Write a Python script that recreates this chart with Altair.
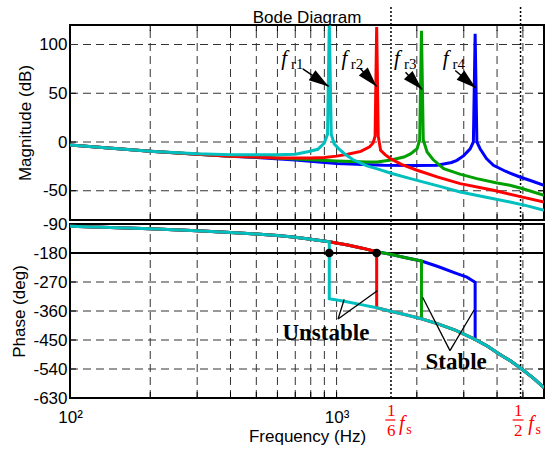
import altair as alt
import pandas as pd

# ---------------- data ----------------
F_MIN, F_MAX = 100, 6000
MAG_DOMAIN = [-80, 120]
PH_DOMAIN = [-630, -90]

mag_ticks = [100, 50, 0, -50]
phase_ticks = [-90, -180, -270, -360, -450, -540, -630]
mag_grid = [100, 50, 0, -50]
phase_grid = [-270, -360, -450, -540]
freq_grid = [200, 300, 400, 500, 600, 700, 800, 900, 1000, 2000, 3000, 4000, 5000]
fs_lines = [1600, 4900]          # 1/6 fs and 1/2 fs

# magnitude curves (Hz, dB)
mag_f_blue = [100, 200, 300, 400, 500, 700, 1000, 1500, 2000, 2382, 2700, 2828, 3000, 3171, 3260, 3310, 3360, 3454, 3650, 3876, 4300, 4873, 5400, 6000]
mag_db_blue = [-3, -9.5, -12.5, -14.5, -16, -18.5, -22, -23.9, -24, -23.9, -21, -18.8, -14, -7, 0, 111, 0, -6.9, -17, -23.9, -30, -35.9, -40, -44.4]

mag_f_green = [100, 200, 300, 400, 500, 700, 1000, 1300, 1422, 1600, 1789, 1900, 2005, 2050, 2082, 2115, 2186, 2300, 2523, 2900, 3358, 4000, 4471, 5000, 6000]
mag_db_green = [-3, -9.5, -12.5, -14.5, -15.5, -17.5, -19.5, -20.5, -20.5, -18.5, -15.4, -12, -6.9, 2, 114, 2, -10.3, -18, -27.4, -33, -37.6, -42, -44.4, -48, -54.6]

mag_f_red = [100, 200, 300, 400, 500, 600, 700, 800, 900, 1000, 1100, 1233, 1330, 1370, 1395, 1414, 1433, 1463, 1520, 1594, 1750, 2005, 2400, 2910, 3876, 4800, 6000]
mag_db_red = [-3, -9.5, -12.5, -14.5, -15.5, -16.3, -16.5, -16.5, -16, -14.5, -12.5, -9.6, -5, -1, 6, 118, 6, -8.6, -13, -17.1, -23, -29, -36, -42.7, -49.5, -55.5, -61.5]

mag_f_cyan = [100, 200, 300, 400, 500, 600, 700, 780, 850, 900, 925, 939, 955, 980, 1020, 1070, 1150, 1300, 1422, 1600, 1893, 2400, 2910, 3600, 4471, 5200, 6000]
mag_db_cyan = [-3, -9.5, -12, -13, -13, -13, -12.5, -10, -7.5, -1, 8, 122, 8, -2, -7, -12, -18, -24.5, -27.5, -32, -37.6, -45, -51.2, -56.5, -61.5, -65.5, -70]

# phase: common upper branch, common lower branch, resonance where each curve drops
upper_f = [100, 200, 300, 400, 500, 600, 700, 800, 939, 1100, 1250, 1414, 1594, 1800, 2082, 2400, 2828, 3083, 3310]
upper_deg = [-97, -105, -111, -116, -121, -126, -131, -137, -145, -155, -165, -176, -184, -194, -205, -222, -244, -255, -271]
lower_f = [939, 1068, 1250, 1414, 1594, 1800, 2082, 2400, 2800, 3310, 3700, 4100, 4500, 4950, 5500, 6000]
lower_deg = [-322, -330, -341, -350, -361, -371, -384, -400, -420, -448, -470, -495, -515, -540, -570, -598]

series_names = ["fr4", "fr3", "fr2", "fr1"]      # drawing order (cyan on top)
series_colors = ["#0000FF", "#00A000", "#FF0000", "#00BFBF"]
series_res = [3310, 2082, 1414, 939]
series_mag_f = [mag_f_blue, mag_f_green, mag_f_red, mag_f_cyan]
series_mag_db = [mag_db_blue, mag_db_green, mag_db_red, mag_db_cyan]

# annotations (data coordinates)
title_text = "Bode Diagram"
title_f = 774.6
title_db = 122
fr_sub = ["r1", "r2", "r3", "r4"]
fr_f_x = [620, 1044, 1642, 2500]
fr_sub_x = [675, 1131, 1789, 2725]
fr_f_y = 78.8
fr_sub_y = 75
arrow_start_f = [747, 1225, 1814, 2788]
arrow_start_db = [75, 75.7, 71.6, 73.3]
arrow_tip_f = [934, 1414, 2094, 3329]
arrow_tip_db = [57, 57, 53.9, 55.5]
arrow_angle = [34, 48, 46, 40]

dot_f = [939, 1414]
dot_deg = [-180, -180]

status_text = ["Unstable", "Stable"]
status_f = [912, 2809]
status_deg = [-451, -540]
v_apex_f = [1013, 1013, 2663, 2663]
v_apex_deg = [-385, -385, -483, -483]
v_end_f = [1068, 1422, 2103, 3281]
v_end_deg = [-324, -297, -317.5, -357]

frac_num = ["1", "1"]
frac_den = ["6", "2"]
frac_f = [1604, 4806]
frac_num_deg = -686.8
frac_den_deg = -746.7
frac_bar_f1 = [1524, 4575]
frac_bar_f2 = [1660, 5029]
frac_bar_deg = -698.3
frac_fs_f = [1714, 5236]
frac_fs_deg = -728.7
frac_s_f = [1825, 5577]
frac_s_deg = -742.7

# ---------------- scales / axes ----------------
xs = alt.Scale(type="log", domain=[F_MIN, F_MAX], nice=False)
ys_mag = alt.Scale(domain=MAG_DOMAIN, nice=False, zero=False)
ys_ph = alt.Scale(domain=PH_DOMAIN, nice=False, zero=False)

AX_MAG = alt.Axis(values=mag_ticks, title="Magnitude (dB)", grid=False, domain=False, ticks=False,
                  labelPadding=3, titlePadding=4, labelExpr="'' + datum.value")
AX_PH = alt.Axis(values=phase_ticks, title="Phase (deg)", grid=False, domain=False, ticks=False,
                 labelPadding=3, titlePadding=4, labelExpr="'' + datum.value")
AX_F = alt.Axis(values=[100, 1000], title="Frequency  (Hz)", grid=False, domain=False, ticks=False,
                labelExpr="datum.value == 100 ? '10²' : '10³'", labelFlush=False, labelOverlap=False,
                labelPadding=11, titlePadding=3)


def tx(field="f"):
    return alt.X(f"{field}:Q", scale=xs, axis=None)


def bx(field="f"):
    return alt.X(f"{field}:Q", scale=xs, axis=AX_F)


def ty(field="v"):
    return alt.Y(f"{field}:Q", scale=ys_mag, axis=AX_MAG)


def by(field="v"):
    return alt.Y(f"{field}:Q", scale=ys_ph, axis=AX_PH)


GRID = dict(color="#333333", strokeWidth=1, strokeDash=[8, 5])
TICK_PX = 6
MAG_PX_PER_UNIT = 195 / (MAG_DOMAIN[1] - MAG_DOMAIN[0])
PH_PX_PER_UNIT = 174 / (PH_DOMAIN[1] - PH_DOMAIN[0])
X_TICK_FACTOR = 10 ** (TICK_PX / 268)


def panel_common(xfn, yfn, ydom, hgrid, hticks, px_per_unit, ext_top, ext_bot):
    layers = []
    vg = pd.DataFrame({"f": freq_grid, "v": ydom[0], "v2": ydom[1]})
    layers.append(alt.Chart(vg).mark_rule(**GRID).encode(x=xfn(), y=yfn(), y2="v2:Q"))
    hg = pd.DataFrame({"f": F_MIN, "f2": F_MAX, "v": hgrid})
    layers.append(alt.Chart(hg).mark_rule(**GRID).encode(x=xfn(), x2="f2:Q", y=yfn()))
    tl = TICK_PX / px_per_unit
    xt = pd.DataFrame({"f": freq_grid * 2,
                       "v": [ydom[0]] * len(freq_grid) + [ydom[1]] * len(freq_grid),
                       "v2": [ydom[0] + tl] * len(freq_grid) + [ydom[1] - tl] * len(freq_grid)})
    layers.append(alt.Chart(xt).mark_rule(color="black", strokeWidth=1).encode(x=xfn(), y=yfn(), y2="v2:Q"))
    yt = pd.DataFrame({"f": [F_MIN] * len(hticks) + [F_MAX / X_TICK_FACTOR] * len(hticks),
                       "f2": [F_MIN * X_TICK_FACTOR] * len(hticks) + [F_MAX] * len(hticks),
                       "v": hticks * 2})
    layers.append(alt.Chart(yt).mark_rule(color="black", strokeWidth=1).encode(x=xfn(), x2="f2:Q", y=yfn()))
    fl = pd.DataFrame({"f": fs_lines, "v": ext_bot, "v2": ext_top})
    layers.append(alt.Chart(fl).mark_rule(color="black", strokeWidth=1.5, strokeDash=[2, 2], clip=False)
                  .encode(x=xfn(), y=yfn(), y2="v2:Q"))
    return layers


# ---------------- magnitude panel ----------------
top_layers = panel_common(tx, ty, MAG_DOMAIN, mag_grid, [50, 0, -50], MAG_PX_PER_UNIT,
                          MAG_DOMAIN[1] + 20 / MAG_PX_PER_UNIT, MAG_DOMAIN[0] - 5 / MAG_PX_PER_UNIT)
for name, col, fl, dl in zip(series_names, series_colors, series_mag_f, series_mag_db):
    d = pd.DataFrame({"f": fl, "v": dl, "i": range(len(fl))})
    top_layers.append(alt.Chart(d).mark_line(color=col, strokeWidth=3, clip=True)
                      .encode(x=tx(), y=ty(), order=alt.Order("i:Q")))

arr = pd.DataFrame({"f": arrow_start_f, "v": arrow_start_db, "f2": arrow_tip_f, "v2": arrow_tip_db})
top_layers.append(alt.Chart(arr).mark_rule(color="black", strokeWidth=1.5).encode(x=tx(), y=ty(), x2="f2:Q", y2="v2:Q"))
heads = pd.DataFrame({"f": arrow_tip_f, "v": arrow_tip_db, "ang": arrow_angle})
top_layers.append(alt.Chart(heads).mark_point(shape="M0,0L-2,-0.6L-2,0.6Z", filled=True, color="black",
                                               opacity=1, size=400, strokeWidth=0)
                  .encode(x=tx(), y=ty(), angle=alt.Angle("ang:Q", scale=None)))
ft = pd.DataFrame({"f": fr_f_x, "v": fr_f_y, "t": ["f"] * 4})
top_layers.append(alt.Chart(ft).mark_text(align="left", baseline="alphabetic", font="Liberation Serif",
                                          fontStyle="italic", fontSize=21, color="black")
                  .encode(x=tx(), y=ty(), text="t:N"))
st = pd.DataFrame({"f": fr_sub_x, "v": fr_sub_y, "t": fr_sub})
top_layers.append(alt.Chart(st).mark_text(align="left", baseline="alphabetic", font="Liberation Serif",
                                          fontSize=15, color="black")
                  .encode(x=tx(), y=ty(), text="t:N"))
tt = pd.DataFrame({"f": [title_f], "v": [title_db], "t": [title_text]})
top_layers.append(alt.Chart(tt).mark_text(align="center", baseline="alphabetic", font="Liberation Sans",
                                          fontSize=17, color="black", clip=False)
                  .encode(x=tx(), y=ty(), text="t:N"))

top = alt.layer(*top_layers).properties(width=474, height=195)

# ---------------- phase panel ----------------
bot_layers = panel_common(bx, by, PH_DOMAIN, phase_grid, [-180, -270, -360, -450, -540], PH_PX_PER_UNIT,
                          PH_DOMAIN[1] + 5 / PH_PX_PER_UNIT, PH_DOMAIN[0])
m180 = pd.DataFrame({"f": [F_MIN], "f2": [F_MAX], "v": [-180]})
bot_layers.append(alt.Chart(m180).mark_rule(color="black", strokeWidth=2).encode(x=bx(), x2="f2:Q", y=by()))
for name, col, fr in zip(series_names, series_colors, series_res):
    pts = [(f, d) for f, d in zip(upper_f, upper_deg) if f <= fr] + \
          [(f, d) for f, d in zip(lower_f, lower_deg) if f >= fr]
    d = pd.DataFrame({"f": [p[0] for p in pts], "v": [p[1] for p in pts], "i": range(len(pts))})
    bot_layers.append(alt.Chart(d).mark_line(color=col, strokeWidth=3, clip=True)
                      .encode(x=bx(), y=by(), order=alt.Order("i:Q")))
dots = pd.DataFrame({"f": dot_f, "v": dot_deg})
bot_layers.append(alt.Chart(dots).mark_circle(color="black", size=75, opacity=1).encode(x=bx(), y=by()))
vl = pd.DataFrame({"f": v_apex_f, "v": v_apex_deg, "f2": v_end_f, "v2": v_end_deg})
bot_layers.append(alt.Chart(vl).mark_rule(color="black", strokeWidth=1.3).encode(x=bx(), y=by(), x2="f2:Q", y2="v2:Q"))
stt = pd.DataFrame({"f": status_f, "v": status_deg, "t": status_text})
bot_layers.append(alt.Chart(stt).mark_text(align="center", baseline="alphabetic", font="Liberation Serif",
                                           fontWeight="bold", fontSize=23, color="black")
                  .encode(x=bx(), y=by(), text="t:N"))

RED = "#FF0000"
num = pd.DataFrame({"f": frac_f, "v": frac_num_deg, "t": frac_num})
bot_layers.append(alt.Chart(num).mark_text(align="center", baseline="alphabetic", font="Liberation Serif",
                                           fontSize=17, color=RED, clip=False)
                  .encode(x=bx(), y=by(), text="t:N"))
den = pd.DataFrame({"f": frac_f, "v": frac_den_deg, "t": frac_den})
bot_layers.append(alt.Chart(den).mark_text(align="center", baseline="alphabetic", font="Liberation Serif",
                                           fontSize=17, color=RED, clip=False)
                  .encode(x=bx(), y=by(), text="t:N"))
bar = pd.DataFrame({"f": frac_bar_f1, "f2": frac_bar_f2, "v": frac_bar_deg})
bot_layers.append(alt.Chart(bar).mark_rule(color=RED, strokeWidth=1.2, clip=False)
                  .encode(x=bx(), x2="f2:Q", y=by()))
fsf = pd.DataFrame({"f": frac_fs_f, "v": frac_fs_deg, "t": ["f", "f"]})
bot_layers.append(alt.Chart(fsf).mark_text(align="left", baseline="alphabetic", font="Liberation Serif",
                                           fontStyle="italic", fontSize=20, color=RED, clip=False)
                  .encode(x=bx(), y=by(), text="t:N"))
fss = pd.DataFrame({"f": frac_s_f, "v": frac_s_deg, "t": ["s", "s"]})
bot_layers.append(alt.Chart(fss).mark_text(align="left", baseline="alphabetic", font="Liberation Serif",
                                           fontSize=14, color=RED, clip=False)
                  .encode(x=bx(), y=by(), text="t:N"))

bottom = alt.layer(*bot_layers).properties(width=474, height=174)

chart = alt.vconcat(top, bottom, spacing=4, bounds="flush").resolve_scale(
    x="independent", y="independent"
).configure_axis(
    labelFont="Liberation Sans", labelFontSize=17, labelColor="black",
    titleFont="Liberation Sans", titleFontSize=17, titleFontWeight="normal", titleColor="black"
).configure_view(
    stroke="black", strokeWidth=2
).properties(
    padding={"left": 9, "top": 3, "right": 0, "bottom": 0},
    background="white"
)

chart.save("out.html", embed_options={"renderer": "svg", "actions": False})
